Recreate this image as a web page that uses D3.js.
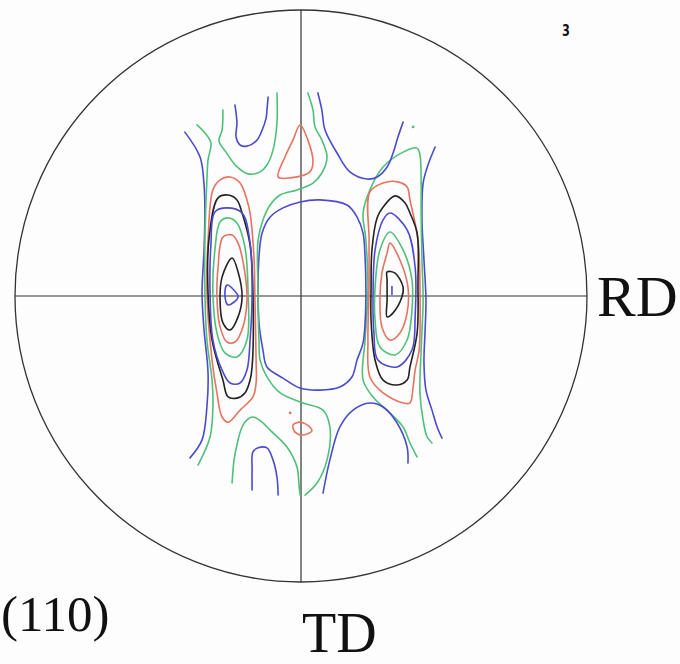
<!DOCTYPE html>
<html>
<head>
<meta charset="utf-8">
<script src="https://cdn.jsdelivr.net/npm/d3@7"></script>
<style>
  body { margin: 0; background: #fff; }
  svg { display: block; }
</style>
</head>
<body>
<svg id="grafica" width="680" height="664"></svg>
<script>
// (110) pole figure, coordinates in units of the projection radius = 100
// +x toward RD, +y toward TD (downwards). Levels 1 (lowest) .. 9 (highest)
const levelColor = ['#4b4bd0', '#4fc07a', '#e5735f', '#222222']

// --- left maximum (x ~ -25) ---
const left9 = [[-25.9,-3.8],[-22.0,0.3],[-25.5,3.1],[-26.6,-0.3]]
const left8 = [[-24.1,-13.3],[-22.0,-8.4],[-20.6,0.3],[-22.0,7.3],[-24.8,11.9],[-27.3,9.4],[-28.3,1.4],[-27.6,-6.6]]
const left7 = [[-27.3,-20.6],[-24.1,-21.3],[-22.0,-18.5],[-19.6,-8.0],[-18.9,1.4],[-20.3,10.8],[-23.1,16.1],[-25.9,16.1],[-28.3,10.8],[-29.4,0.3],[-29.0,-10.1]]
const left6 = [[-28.3,-25.9],[-25.5,-27.3],[-22.4,-25.5],[-19.6,-17.1],[-18.5,-1.0],[-18.9,15.4],[-22.4,21.3],[-26.6,19.9],[-29.4,12.9],[-30.8,-1.0],[-30.1,-16.1]]
const left5 = [[-30.1,-29.4],[-25.9,-30.8],[-20.6,-29.0],[-17.8,-18.5],[-17.1,-1.0],[-17.8,15.4],[-18.9,25.9],[-21.3,30.4],[-24.8,30.4],[-27.6,25.9],[-30.8,15.4],[-31.8,-1.0],[-31.5,-17.8]]
const left4 = [[-29.0,-34.3],[-25.5,-35.3],[-22.4,-33.6],[-20.6,-29.0],[-17.8,-17.8],[-16.8,-1.0],[-17.1,24.8],[-17.8,29.4],[-19.6,33.9],[-22.4,35.7],[-25.5,35.3],[-27.3,29.4],[-31.1,15.4],[-32.5,-1.0],[-32.2,-19.6]]
const left3 = [[-30.8,-37.1],[-28.3,-40.6],[-24.8,-41.6],[-21.3,-39.5],[-18.9,-33.6],[-17.8,-29.0],[-16.4,-12.6],[-16.1,1.4],[-15.7,22.4],[-15.7,30.4],[-16.8,35.3],[-21.3,39.9],[-25.5,44.1],[-27.6,42.3],[-29.4,33.9],[-31.1,22.4],[-32.9,-1.0],[-32.5,-19.6]]
const left2 = [[-36.4,-59.8],[-33.6,-57.0],[-31.5,-53.5],[-32.5,-47.6],[-32.9,-40.6],[-33.6,-19.6],[-33.6,-1.0],[-32.9,15.4],[-31.1,29.4],[-30.8,38.8],[-31.8,49.3],[-36.0,59.1]]
const left1 = [[-40.6,-57.3],[-35.3,-48.6],[-33.9,-38.8],[-33.6,-30.1],[-33.9,-16.1],[-34.6,-1.0],[-33.9,11.9],[-32.5,26.9],[-32.9,38.8],[-34.6,50.3],[-38.8,56.6]]

// --- right maximum (x ~ +32) ---
const right9 = [[31.8,-3.3],[31.8,-0.5]]
const right8 = [[30.1,-8.4],[32.9,-8.0],[35.7,-3.1],[35.3,0.3],[32.2,5.9],[30.1,7.3],[30.1,1.4],[30.1,-5.6]]
const right7 = [[31.1,-18.5],[34.6,-12.6],[37.4,-3.1],[37.1,5.9],[34.6,12.9],[31.1,15.4],[28.3,10.8],[27.6,1.4],[28.3,-8.0],[30.1,-15.0]]
const right6 = [[31.1,-22.4],[35.7,-16.1],[38.8,-5.6],[38.8,4.9],[37.1,15.4],[32.9,20.6],[27.6,17.8],[25.9,8.4],[25.9,-3.1],[27.6,-16.1]]
const right5 = [[31.1,-29.0],[37.1,-23.1],[39.9,-10.1],[39.9,7.3],[38.8,18.9],[33.6,24.8],[26.9,22.4],[25.5,12.9],[25.2,-1.0],[25.9,-16.1],[28.7,-26.6]]
const right4 = [[28.7,-31.1],[32.9,-35.0],[36.4,-32.5],[38.1,-29.0],[40.6,-22.0],[40.9,-4.5],[40.6,12.9],[38.1,24.8],[37.1,29.4],[33.6,31.1],[28.7,29.4],[25.9,22.4],[24.5,8.4],[24.5,-2.1],[24.8,-16.1],[26.6,-27.3]]
const right3 = [[24.1,-36.4],[28.7,-39.5],[33.9,-39.9],[37.1,-38.1],[38.1,-33.6],[40.9,-19.6],[41.6,-2.1],[41.3,18.9],[39.9,25.9],[39.2,31.8],[38.1,37.4],[35.7,37.4],[28.7,33.9],[24.1,28.3],[23.4,15.4],[23.8,-2.1],[23.8,-19.6]]
const right2 = [[40.6,56.3],[38.1,51.4],[35.7,45.8],[31.1,40.9],[25.2,35.3],[21.7,29.4],[22.4,15.4],[23.4,-2.1],[22.7,-19.6],[21.7,-29.0],[24.1,-37.1],[28.7,-45.1],[35.7,-50.3],[40.6,-51.7],[41.6,-49.3],[42.0,-40.6],[42.0,-29.0],[42.3,-12.6],[42.7,1.4],[42.0,18.9],[41.6,33.9],[42.7,43.4],[44.1,49.3],[45.8,51.4]]
const right1 = [[46.9,-52.1],[44.4,-45.8],[42.7,-39.5],[42.3,-26.6],[43.0,-12.6],[43.7,1.4],[43.4,11.9],[43.0,23.4],[43.7,32.9],[45.8,39.9],[47.6,45.8],[49.3,49.7]]

// --- centre and the ND-side / TD-side lobes ---
const centre1 = [[-0.3,-32.9],[6.6,-33.6],[16.1,-31.8],[19.6,-27.6],[21.7,-22.0],[22.4,-13.6],[22.7,-2.1],[22.4,9.4],[21.7,16.4],[19.6,22.4],[17.8,28.3],[13.6,31.8],[6.6,32.9],[-0.3,32.2],[-6.3,28.7],[-11.9,24.8],[-13.3,18.9],[-14.7,9.4],[-15.0,-2.1],[-14.7,-13.6],[-13.6,-22.0],[-10.8,-27.6],[-6.3,-30.8]]
const centre2 = [[2.4,-71.0],[4.2,-65.0],[4.9,-59.1],[7.3,-54.5],[9.1,-48.6],[7.3,-43.0],[4.2,-39.5],[-1.4,-37.1],[-7.3,-35.3],[-10.8,-31.8],[-13.3,-26.6],[-15.0,-19.6],[-15.0,-1.0],[-14.7,15.4],[-14.3,22.4],[-11.9,28.3],[-7.3,33.9],[0.7,37.4],[7.7,39.9],[10.1,45.8],[9.1,57.3],[5.6,65.4],[1.4,69.6]]
const top1a = [[-23.1,-66.8],[-22.4,-60.5],[-22.7,-55.6],[-21.3,-52.8],[-18.9,-52.4],[-15.4,-54.5],[-13.6,-58.0],[-12.2,-62.2],[-11.9,-65.0],[-11.5,-69.6]]
const top1b = [[5.9,-71.0],[7.3,-65.0],[8.4,-58.0],[12.6,-50.0],[17.1,-43.4],[23.1,-40.9],[26.6,-41.6],[30.1,-45.1],[32.2,-50.0],[33.9,-55.6],[35.7,-60.8]]
const top2 = [[-27.3,-65.0],[-27.6,-58.0],[-28.7,-54.2],[-26.2,-50.3],[-22.7,-45.5],[-18.5,-42.7],[-14.3,-43.4],[-11.9,-45.8],[-9.8,-51.0],[-8.4,-60.5],[-8.4,-71.0]]
const top3 = [[-0.3,-59.8],[2.4,-54.5],[4.2,-46.9],[3.1,-43.4],[-3.8,-41.3],[-8.0,-41.6],[-5.6,-48.6],[-2.8,-54.5]]
const bottom1a = [[-17.1,67.8],[-17.1,60.8],[-16.8,54.5],[-15.0,53.1],[-11.9,53.1],[-9.8,57.3],[-8.4,63.3],[-8.0,69.6]]
const bottom1b = [[7.7,68.9],[10.1,57.3],[13.6,45.8],[18.2,39.9],[24.1,37.4],[28.7,38.8],[33.6,44.4],[37.1,52.8],[37.4,58.4]]
const bottom2 = [[-24.1,65.4],[-23.4,57.3],[-22.4,52.1],[-20.6,45.8],[-18.5,43.0],[-16.8,42.3],[-13.6,44.1],[-10.8,46.9],[-4.9,52.8],[-1.4,59.8],[-0.7,66.1],[-0.3,69.6]]
const bottom3 = [[-2.8,45.1],[-0.3,44.1],[3.1,45.8],[3.8,47.2],[0.7,48.6],[-2.1,47.6]]

const spots = [[-3.8,40.9,3],[39.2,-59.1,2]]   // x, y, level

const contours = [
  { level: 1, closed: false, pts: left1 },
  { level: 2, closed: false, pts: left2 },
  { level: 3, closed: true, pts: left3 },
  { level: 4, closed: true, pts: left4 },
  { level: 5, closed: true, pts: left5 },
  { level: 6, closed: true, pts: left6 },
  { level: 7, closed: true, pts: left7 },
  { level: 8, closed: true, pts: left8 },
  { level: 9, closed: true, pts: left9 },
  { level: 1, closed: false, pts: right1 },
  { level: 2, closed: false, pts: right2 },
  { level: 3, closed: true, pts: right3 },
  { level: 4, closed: true, pts: right4 },
  { level: 5, closed: true, pts: right5 },
  { level: 6, closed: true, pts: right6 },
  { level: 7, closed: true, pts: right7 },
  { level: 8, closed: true, pts: right8 },
  { level: 9, closed: false, pts: right9 },
  { level: 1, closed: true, pts: centre1 },
  { level: 2, closed: false, pts: centre2 },
  { level: 1, closed: false, pts: top1a },
  { level: 1, closed: false, pts: top1b },
  { level: 2, closed: false, pts: top2 },
  { level: 3, closed: true, pts: top3 },
  { level: 1, closed: false, pts: bottom1a },
  { level: 1, closed: false, pts: bottom1b },
  { level: 2, closed: false, pts: bottom2 },
  { level: 3, closed: true, pts: bottom3 }
]

function colorOf(level) {
  return levelColor[(level - 1) % 4]
}

const svg = d3.select('#grafica')

svg.append('rect')
  .attr('width', 680).attr('height', 664)
  .attr('fill', '#fdfdfd')

const x = d3.scaleLinear().domain([-100, 100]).range([15, 587])
const y = d3.scaleLinear().domain([-100, 100]).range([10, 582])

// projection circle and RD / TD axes
svg.append('circle')
  .attr('cx', x(0)).attr('cy', y(0))
  .attr('r', x(100) - x(0))
  .attr('fill', 'none')
  .attr('stroke', '#333')
  .attr('stroke-width', 1.3)

svg.append('line')
  .attr('x1', x(-100)).attr('x2', x(100))
  .attr('y1', y(0)).attr('y2', y(0))
  .attr('stroke', '#333').attr('stroke-width', 1.2)

svg.append('line')
  .attr('x1', x(0)).attr('x2', x(0))
  .attr('y1', y(-100)).attr('y2', y(100))
  .attr('stroke', '#333').attr('stroke-width', 1.2)

const openLine = d3.line()
  .x(function (d) { return x(d[0]) })
  .y(function (d) { return y(d[1]) })
  .curve(d3.curveCatmullRom.alpha(0.5))

const closedLine = d3.line()
  .x(function (d) { return x(d[0]) })
  .y(function (d) { return y(d[1]) })
  .curve(d3.curveCatmullRomClosed.alpha(0.5))

svg.append('g')
  .selectAll('path')
  .data(contours)
  .enter()
  .append('path')
  .attr('d', function (d) { return d.closed ? closedLine(d.pts) : openLine(d.pts) })
  .attr('fill', 'none')
  .attr('stroke', function (d) { return colorOf(d.level) })
  .attr('stroke-width', 1.6)
  .attr('stroke-linejoin', 'round')
  .attr('stroke-linecap', 'round')

svg.append('g')
  .selectAll('circle')
  .data(spots)
  .enter()
  .append('circle')
  .attr('cx', function (d) { return x(d[0]) })
  .attr('cy', function (d) { return y(d[1]) })
  .attr('r', 1.4)
  .attr('fill', function (d) { return colorOf(d[2]) })

// labels
const serif = '"Liberation Serif", "Times New Roman", serif'

svg.append('text')
  .attr('x', 597).attr('y', 316)
  .attr('font-family', serif).attr('font-size', 58)
  .attr('fill', '#111')
  .text('RD')

svg.append('text')
  .attr('x', 302).attr('y', 652)
  .attr('font-family', serif).attr('font-size', 56)
  .attr('fill', '#111')
  .text('TD')

svg.append('text')
  .attr('x', 1).attr('y', 631)
  .attr('font-family', serif).attr('font-size', 51)
  .attr('fill', '#111')
  .text('(110)')

svg.append('text')
  .attr('x', 566).attr('y', 36)
  .attr('text-anchor', 'middle')
  .attr('font-family', '"DejaVu Sans", sans-serif')
  .attr('font-weight', 'bold').attr('font-size', 15)
  .attr('transform', 'translate(566,0) scale(0.75,1) translate(-566,0)')
  .attr('fill', '#111')
  .text('3')
</script>
</body>
</html>
